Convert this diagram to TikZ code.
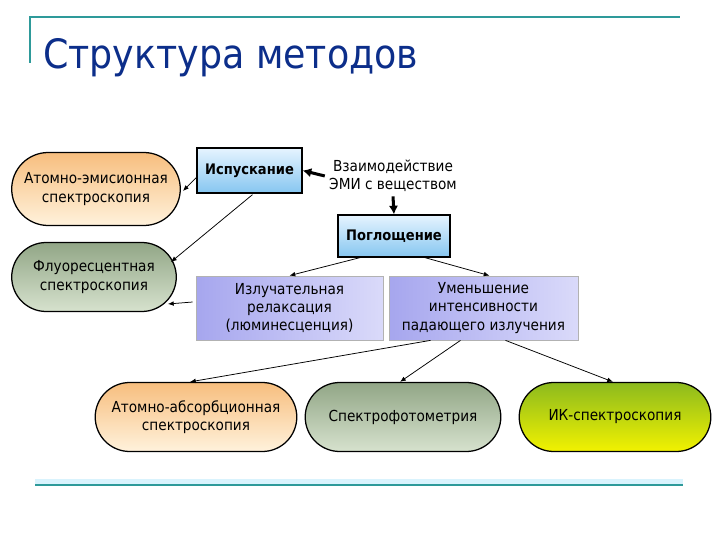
\documentclass[tikz,border=0pt]{standalone}
\usepackage{fontspec}
\setmainfont{DejaVu Sans Condensed}
\usetikzlibrary{calc,arrows.meta,shapes.misc}
\definecolor{titleblue}{HTML}{0C2E8A}
\definecolor{lineteal}{HTML}{2E9A9A}
\definecolor{orangetop}{HTML}{F7BE7E}
\definecolor{orangebot}{HTML}{FFF2DC}
\definecolor{greentop}{HTML}{92A686}
\definecolor{greenbot}{HTML}{D6E2CE}
\definecolor{bluetop}{HTML}{E6F4FF}
\definecolor{bluebot}{HTML}{86C6F0}
\definecolor{lavleft}{HTML}{A6A6EE}
\definecolor{lavright}{HTML}{DADAFA}
\definecolor{yellowtop}{HTML}{8CBA1E}
\definecolor{yellowbot}{HTML}{F2F200}
\newlength\pxu
\setlength\pxu{0.0278cm}

\begin{document}
\begin{tikzpicture}[x=\pxu, y=-\pxu,
    pill/.style={rounded rectangle, draw=black, line width=1pt, align=center,
                 minimum height=69\pxu, font=\fontsize{12}{14.5}\selectfont},
    rbox/.style={rectangle, draw=black, line width=1pt, align=center,
                 top color=bluetop, bottom color=bluebot, font=\bfseries\fontsize{11.5}{13}\selectfont},
    lbox/.style={rectangle, draw=gray!60, line width=0.6pt, align=center,
                 left color=lavleft, right color=lavright, minimum width=187\pxu, minimum height=64\pxu,
                 font=\fontsize{12}{14.5}\selectfont},
    thin/.style={-{Latex[length=1.6mm, width=1.3mm]}, line width=0.6pt, draw=black},
    thick/.style={-{Latex[length=2.4mm, width=2.6mm]}, line width=2.4pt, draw=black}
  ]
    \useasboundingbox (0,0) rectangle (720,540);

    % frame lines and title
    \draw[lineteal, line width=1.4pt] (30,63) -- (30,17) -- (680,17);
    \draw[cyan!15, line width=4pt] (35,482) -- (683,482);
    \draw[lineteal, line width=1.4pt] (35,485) -- (683,485);
    \node[anchor=base west, text=titleblue, font=\fontsize{32}{34}\selectfont, inner sep=0pt]
      (title) at (43,69) {Структура методов};

    \node[pill, minimum width=177\pxu, minimum height=73\pxu, top color=orangetop, bottom color=orangebot]
      (ae) at (96,189) {Атомно-эмисионная\\спектроскопия};
    \node[pill, minimum width=173\pxu, top color=greentop, bottom color=greenbot]
      (fl) at (94,277) {Флуоресцентная\\спектроскопия};
    \node[rbox, minimum width=105\pxu, minimum height=45\pxu] (isp) at (249.5,170.5) {Испускание};
    \node[align=center, font=\fontsize{12}{14.5}\selectfont] (vz) at (393,176)
      {Взаимодействие\\ЭМИ с веществом};
    \node[rbox, minimum width=112\pxu, minimum height=42\pxu] (pog) at (394,236) {Поглощение};
    \node[lbox] (izl) at (289.5,308) {Излучательная\\релаксация\\(люминесценция)};
    \node[lbox, minimum width=189\pxu] (umen) at (483.5,308)
      {Уменьшение\\интенсивности\\падающего излучения};
    \node[pill, minimum width=210\pxu, top color=orangetop, bottom color=orangebot]
      (aa) at (196,417) {Атомно-абсорбционная\\спектроскопия};
    \node[pill, minimum width=204\pxu, top color=greentop, bottom color=greenbot]
      (sf) at (403,417) {Спектрофотометрия};
    \node[pill, minimum width=200\pxu, top color=yellowtop, bottom color=yellowbot]
      (ik) at (615,417) {ИК-спектроскопия};

    \draw[thick] (vz.west) -- (isp.east);
    \draw[thick] (vz.south) -- (pog.north);
    \draw[thin] ($(isp.west)+(1,6)$) -- ($(ae.east)+(2,2)$);
    \draw[thin] ($(isp.south)+(3,1)$) -- ($(fl.east)+(-6,-15)$);
    \draw[thin] ($(pog.south)+(-34,0)$) -- (izl.north);
    \draw[thin] ($(pog.south)+(31,0)$) -- ($(umen.north)+(6,0)$);
    \draw[thin] ($(izl.west)+(-3,-6)$) -- ($(fl.east)+(-9,27)$);
    \draw[thin] ($(umen.south)+(-53,0)$) -- ($(aa.north)+(-6,0)$);
    \draw[thin] ($(umen.south)+(-23,0)$) -- ($(sf.north)+(-3,0)$);
    \draw[thin] ($(umen.south)+(22,0)$) -- ($(ik.north)+(-2,0)$);
\end{tikzpicture}
\end{document}
